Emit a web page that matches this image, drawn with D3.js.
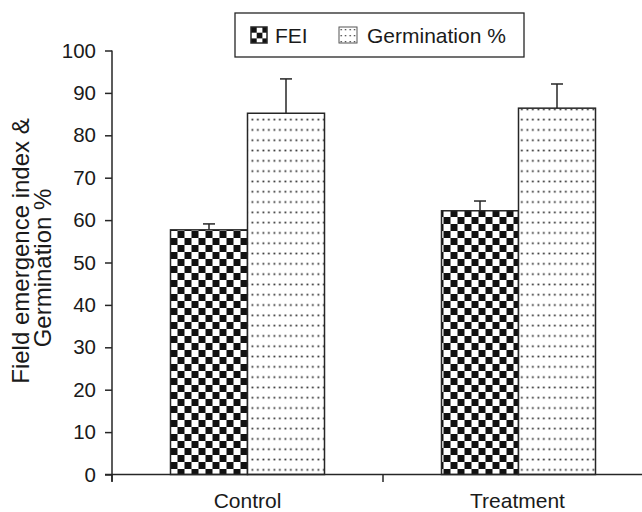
<!DOCTYPE html>
<html><head><meta charset="utf-8">
<script src="https://cdn.jsdelivr.net/npm/d3@7"></script>
<style>
html,body{margin:0;padding:0;background:#fff;}
svg{display:block;font-family:"Liberation Sans",Arial,sans-serif;}
</style></head>
<body>
<svg id="chart" width="642" height="512"></svg>
<script>
const categories = ["Control", "Treatment"];
const series = ["FEI", "Germination %"];
const feiValues = [57.7, 62.2];
const feiErrors = [1.4, 2.3];
const germValues = [85.2, 86.4];
const germErrors = [8.1, 5.7];
const yTicks = [0,10,20,30,40,50,60,70,80,90,100];
const titleLines = ["Field emergence index &", "Germination %"];

const svg = d3.select("#chart");
const ink = "#262626";

const defs = svg.append("defs");
const chk = defs.append("pattern").attr("id","checker").attr("patternUnits","userSpaceOnUse")
  .attr("width",14).attr("height",14).attr("x",170.5).attr("y",0);
chk.append("rect").attr("width",14).attr("height",14).attr("fill","#fff");
chk.append("rect").attr("x",0).attr("y",0).attr("width",7).attr("height",7).attr("fill","#111");
chk.append("rect").attr("x",7).attr("y",7).attr("width",7).attr("height",7).attr("fill","#111");

const dots = defs.append("pattern").attr("id","dots").attr("patternUnits","userSpaceOnUse")
  .attr("width",5.5).attr("height",10.3).attr("x",250).attr("y",4);
dots.append("rect").attr("width",5.5).attr("height",10.3).attr("fill","#fff");
dots.append("rect").attr("x",1.5).attr("y",1.5).attr("width",1.7).attr("height",1.7).attr("fill","#222");

const chkS = defs.append("pattern").attr("id","checkerS").attr("patternUnits","userSpaceOnUse")
  .attr("width",11.4).attr("height",11.4).attr("x",251).attr("y",27);
chkS.append("rect").attr("width",11.4).attr("height",11.4).attr("fill","#fff");
chkS.append("rect").attr("width",5.7).attr("height",5.7).attr("fill","#111");
chkS.append("rect").attr("x",5.7).attr("y",5.7).attr("width",5.7).attr("height",5.7).attr("fill","#111");

const dotsS = defs.append("pattern").attr("id","dotsS").attr("patternUnits","userSpaceOnUse")
  .attr("width",4.5).attr("height",6).attr("x",339).attr("y",27);
dotsS.append("rect").attr("width",4.5).attr("height",6).attr("fill","#fff");
dotsS.append("rect").attr("x",1.5).attr("y",2).attr("width",1.3).attr("height",1.3).attr("fill","#333");

const y = d3.scaleLinear().domain([0,100]).range([474.5, 50.5]);
const x0 = d3.scaleBand().domain(categories).range([112, 654]).paddingInner(0).paddingOuter(0);
const bw = x0.bandwidth();
const groupW = 154;
const x1 = d3.scaleBand().domain(series).range([(bw-groupW)/2, (bw+groupW)/2]);

const rows = categories.map((c,i)=>[
  {cat:c, s:series[0], v:feiValues[i], e:feiErrors[i], fill:"url(#checker)"},
  {cat:c, s:series[1], v:germValues[i], e:germErrors[i], fill:"url(#dots)"}
]).flat();

const eb = svg.append("g").attr("stroke",ink).attr("stroke-width",1.5);
rows.forEach(d=>{
  const cx = x0(d.cat) + x1(d.s) + x1.bandwidth()/2;
  eb.append("line").attr("x1",cx).attr("x2",cx).attr("y1",y(d.v)).attr("y2",y(d.v+d.e));
  eb.append("line").attr("x1",cx-6).attr("x2",cx+6).attr("y1",y(d.v+d.e)).attr("y2",y(d.v+d.e));
});

svg.append("g").selectAll("rect").data(rows).join("rect")
  .attr("x", d=>x0(d.cat)+x1(d.s))
  .attr("y", d=>y(d.v))
  .attr("width", x1.bandwidth())
  .attr("height", d=>y(0)-y(d.v))
  .attr("fill", d=>d.fill)
  .attr("stroke", ink).attr("stroke-width",1.5);

// y axis
const yAxis = d3.axisLeft(y).tickValues(yTicks).tickSize(7).tickPadding(9);
const gy = svg.append("g").attr("transform","translate(112,0)").call(yAxis);
gy.select(".domain").attr("stroke",ink).attr("stroke-width",1.5).attr("d","M-0,50.5V481.5");
gy.selectAll(".tick line").attr("stroke",ink).attr("stroke-width",1.5);
gy.selectAll(".tick text").attr("font-size",20.5).attr("fill","#1a1a1a").attr("font-family","Liberation Sans, Arial, sans-serif");

// x axis
const xAxis = d3.axisBottom(x0).tickSize(0).tickPadding(0).tickFormat(()=>"");
const gx = svg.append("g").attr("transform","translate(0,474.5)").call(xAxis);
gx.select(".domain").remove();
gx.append("line").attr("x1",105).attr("x2",642).attr("y1",0).attr("y2",0).attr("stroke",ink).attr("stroke-width",1.5);
const boundaries = categories.map(c=>x0(c)).concat([x0(categories[categories.length-1])+bw]);
gx.selectAll("line.bnd").data(boundaries).join("line").attr("class","bnd")
  .attr("x1",d=>d).attr("x2",d=>d).attr("y1",0).attr("y2",7.5).attr("stroke",ink).attr("stroke-width",1.5);
gx.selectAll("text.cat").data(categories).join("text").attr("class","cat")
  .attr("x",d=>x0(d)+bw/2 - (d===categories[1]?1:0)).attr("y",33.5)
  .attr("text-anchor","middle").attr("font-size",21).attr("fill","#1a1a1a").text(d=>d);

// y title
svg.append("text").attr("transform","translate(29,251) rotate(-90)").attr("text-anchor","middle")
  .attr("font-size",24).attr("fill","#1a1a1a").text(titleLines[0]);
svg.append("text").attr("transform","translate(51,268) rotate(-90)").attr("text-anchor","middle")
  .attr("font-size",24).attr("fill","#1a1a1a").text(titleLines[1]);

// legend
const lg = svg.append("g");
lg.append("rect").attr("x",235).attr("y",13).attr("width",289).attr("height",44)
  .attr("fill","#fff").attr("stroke",ink).attr("stroke-width",1.3);
lg.append("rect").attr("x",251).attr("y",27).attr("width",16).attr("height",16).attr("fill","url(#checkerS)").attr("stroke",ink).attr("stroke-width",1.5);
lg.append("text").attr("x",275).attr("y",42.5).attr("font-size",21).attr("fill","#1a1a1a").text(series[0]);
lg.append("rect").attr("x",339).attr("y",27).attr("width",18).attr("height",16).attr("fill","url(#dotsS)").attr("stroke","#555").attr("stroke-width",1);
lg.append("text").attr("x",367).attr("y",42.5).attr("font-size",21).attr("fill","#1a1a1a").text(series[1]);
</script>
</body></html>
